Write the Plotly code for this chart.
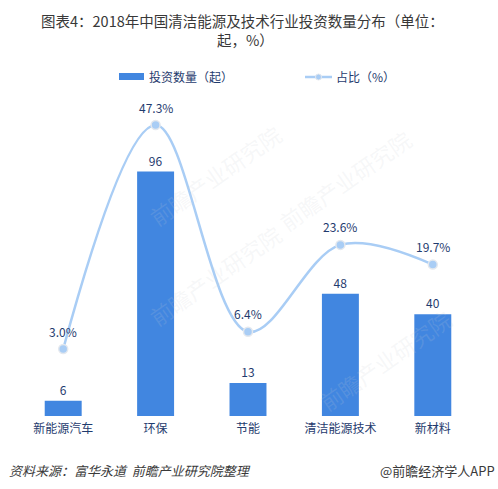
import plotly.graph_objects as go

categories = ["新能源汽车", "环保", "节能", "清洁能源技术", "新材料"]
counts = [6, 96, 13, 48, 40]
shares = [3.0, 47.3, 6.4, 23.6, 19.7]
share_labels = ["3.0%", "47.3%", "6.4%", "23.6%", "19.7%"]

NAVY = "#1f3b6e"
BAR = "#4186e0"
LINE = "#a9cdf5"
FONT = "Noto Sans CJK SC, sans-serif"

W, H = 498, 489
L, R, T, B = 17, 19, 110, 73
pw, ph = W - L - R, H - T - B


def px(x):  # page pixel -> paper fraction
    return (x - L) / pw


def py(y):
    return (H - B - y) / ph


fig = go.Figure()
fig.add_trace(go.Bar(
    x=categories, y=counts, width=0.4, marker=dict(color=BAR, line=dict(width=0)),
    text=[str(v) for v in counts], textposition="outside",
    textfont=dict(size=12, color=NAVY, family=FONT), cliponaxis=False,
    showlegend=False, yaxis="y"))
fig.add_trace(go.Scatter(
    x=categories, y=shares, mode="lines+markers", yaxis="y2",
    line=dict(color=LINE, width=2.5, shape="spline", smoothing=1.0),
    marker=dict(size=9, color=LINE, line=dict(color="#e4e8ee", width=1.5)),
    cliponaxis=False, showlegend=False))

ann = []
for c, v, t in zip(categories, shares, share_labels):
    ann.append(dict(x=c, y=v, xref="x", yref="y2", text=t, showarrow=False,
                    yshift=18, font=dict(size=12, color=NAVY, family=FONT)))

# title (two lines)
ann.append(dict(x=px(242), y=py(21), xref="paper", yref="paper", xanchor="center", yanchor="middle",
                text="图表4：2018年中国清洁能源及技术行业投资数量分布（单位：", showarrow=False, borderpad=0,
                font=dict(size=14.5, color="#383838", family=FONT)))
ann.append(dict(x=px(245), y=py(40), xref="paper", yref="paper", xanchor="center", yanchor="middle",
                text="起，%）", showarrow=False, borderpad=0,
                font=dict(size=14.5, color="#383838", family=FONT)))
# legend
ann.append(dict(x=px(147), y=py(77), xref="paper", yref="paper", xanchor="left", yanchor="middle",
                text="投资数量（起）", showarrow=False, font=dict(size=12, color=NAVY, family=FONT)))
ann.append(dict(x=px(334), y=py(77), xref="paper", yref="paper", xanchor="left", yanchor="middle",
                text="占比（%）", showarrow=False, font=dict(size=12, color=NAVY, family=FONT)))
# footer
ann.append(dict(x=px(7), y=py(470), xref="paper", yref="paper", xanchor="left", yanchor="middle",
                text="<i>资料来源：富华永道  前瞻产业研究院整理</i>", showarrow=False,
                font=dict(size=13, color="#3a3a3a", family=FONT)))
ann.append(dict(x=px(497), y=py(470), xref="paper", yref="paper", xanchor="right", yanchor="middle",
                text="@前瞻经济学人APP", showarrow=False, font=dict(size=13, color="#3a3a3a", family=FONT)))
# faint watermarks
for wx, wy in [(215, 115), (215, 335), (420, 120), (460, 420)]:
    ann.append(dict(x=px(wx), y=py(wy), xref="paper", yref="paper", text="前瞻产业研究院",
                    showarrow=False, textangle=-35,
                    font=dict(size=22, color="rgba(200,205,212,0.16)", family=FONT)))

shapes = [
    dict(type="rect", xref="paper", yref="paper", x0=px(119), x1=px(144), y0=py(80), y1=py(73),
         fillcolor=BAR, line=dict(width=0)),
    dict(type="line", xref="paper", yref="paper", x0=px(305), x1=px(332), y0=py(77), y1=py(77),
         line=dict(color=LINE, width=2.5)),
    dict(type="circle", xref="paper", yref="paper", x0=px(315.5), x1=px(321.5), y0=py(80), y1=py(74),
         fillcolor=LINE, line=dict(color="#e4e8ee", width=1)),
]

fig.update_layout(
    width=W, height=H,
    margin=dict(l=L, r=R, t=T, b=B),
    paper_bgcolor="white", plot_bgcolor="white",
    xaxis=dict(showgrid=False, showline=False, zeroline=False, ticks="", ticklabelstandoff=4,
               tickfont=dict(size=12, color=NAVY, family=FONT)),
    yaxis=dict(range=[0, 120.2], visible=False, showgrid=False, zeroline=False),
    yaxis2=dict(range=[-10.25, 50.28], visible=False, overlaying="y", side="right",
                showgrid=False, zeroline=False),
    showlegend=False,
    annotations=ann, shapes=shapes,
)

fig.write_html("out.html", config={"displayModeBar": False},
               post_script="document.body.style.margin='0';document.body.style.overflow='hidden';")
